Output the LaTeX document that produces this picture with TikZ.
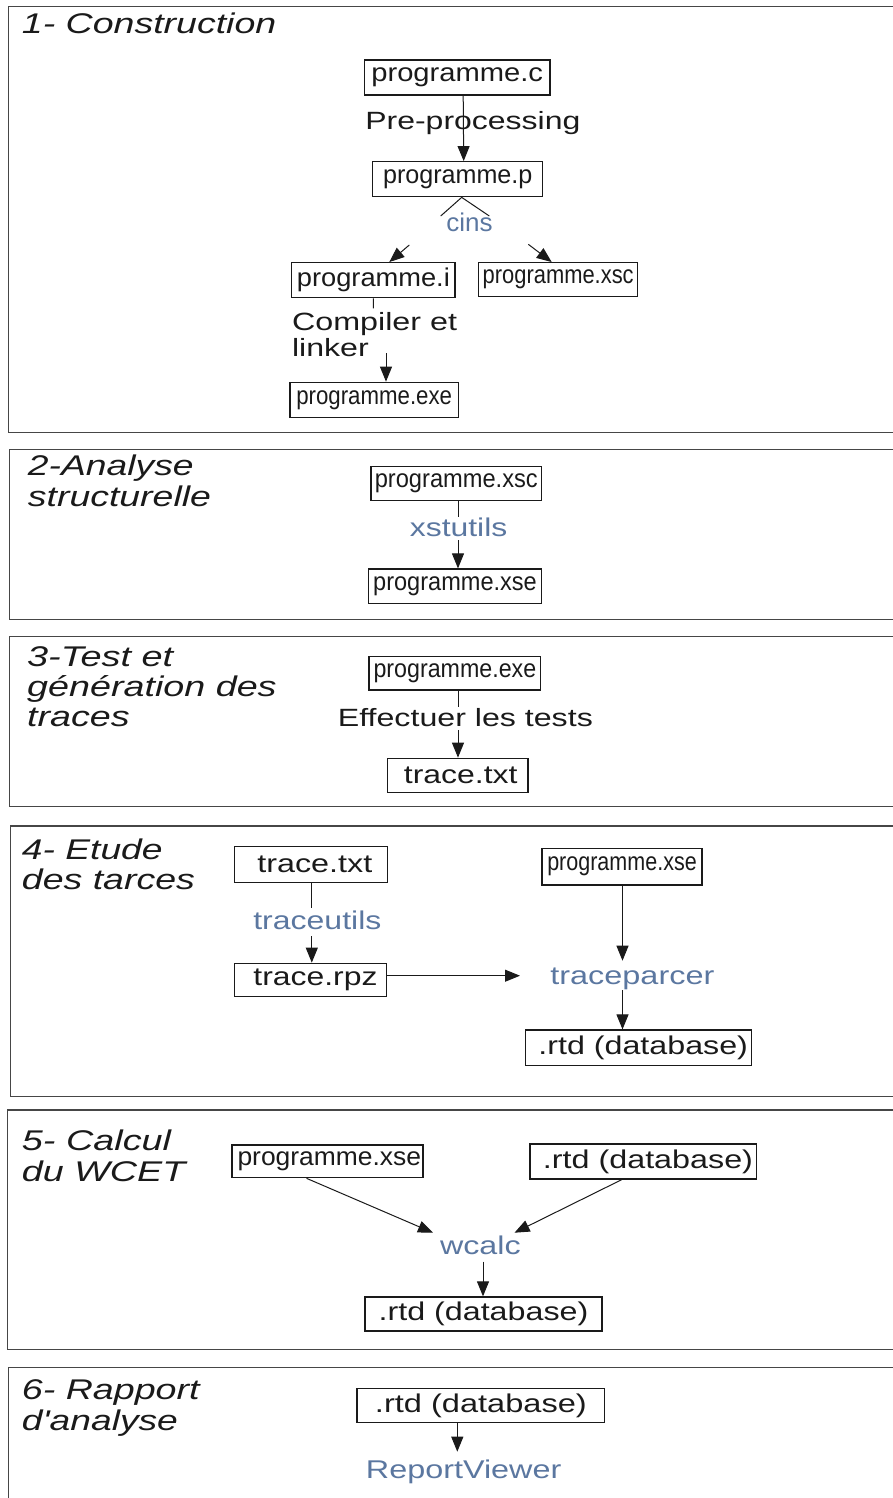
\documentclass[tikz,border=0pt]{standalone}
\usepackage{graphicx}
\usepackage{fontspec}
\setmainfont{Liberation Sans}
\usetikzlibrary{arrows.meta}

% one drawing unit = 0.2mm; \fw sets a text to a given width, keeping its height
\newlength\pxu
\setlength\pxu{0.2mm}
\newcommand\fw[2]{\resizebox{#1\pxu}{\height}{#2}}

\definecolor{ink}{RGB}{26,26,26}
\definecolor{toolblue}{RGB}{91,119,160}
\definecolor{framec}{RGB}{70,70,70}

\begin{document}
\begin{tikzpicture}[
  x=0.2mm, y=-0.2mm,
  frame/.style={draw=framec, line width=0.3mm},
  box/.style={draw=ink, line width=0.26mm, inner sep=0, text=ink,
              font=\fontsize{14.6pt}{17pt}\selectfont},
  wh/.style 2 args={minimum width=#1*0.2mm, minimum height=#2*0.2mm},
  title/.style={inner sep=0, anchor=base west, text=ink,
                font=\fontsize{16.2pt}{19pt}\selectfont\itshape},
  note/.style={inner sep=0, anchor=base west, text=ink,
               font=\fontsize{14.2pt}{17pt}\selectfont},
  toollabel/.style={inner sep=0, anchor=base west, text=toolblue,
                    font=\fontsize{14.6pt}{17pt}\selectfont},
  link/.style={draw=ink, line width=0.2mm},
  arr/.style={link, -{Triangle[length=3mm,width=2.4mm]}},
]
\useasboundingbox (0,0) rectangle (893,1498);
\clip (0,0) rectangle (893,1498);

% ---------- section frames (open to the right) ----------
\draw[frame] (900,6.7)    -- (8.5,6.7)    -- (8.5,432.3)   -- (900,432.3);
\draw[frame] (900,449.3)  -- (9.6,449.3)  -- (9.6,619.3)   -- (900,619.3);
\draw[frame] (900,636.7)  -- (9.6,636.7)  -- (9.6,806.7)   -- (900,806.7);
\draw[frame] (900,826)    -- (10.3,826)   -- (10.3,1096.7) -- (900,1096.7);
\draw[frame] (900,1110)   -- (7.4,1110)   -- (7.4,1349.3)  -- (900,1349.3);
\draw[frame] (900,1367.5) -- (8.5,1367.5) -- (8.5,1510);

% ---------- section titles ----------
\node[title] (t1)  at (21.6,33)    {\fw{254.4}{1- Construction}};
\node[title] (t2a) at (27.6,475)   {\fw{165.7}{2-Analyse}};
\node[title] (t2b) at (27.6,506.7) {\fw{183}{structurelle}};
\node[title] (t3a) at (26.8,666)   {\fw{146}{3-Test et}};
\node[title] (t3b) at (26.8,696.7) {\fw{249.5}{génération des}};
\node[title] (t3c) at (26.8,726.7) {\fw{102.6}{traces}};
\node[title] (t4a) at (21.6,859.3) {\fw{140.7}{4- Etude}};
\node[title] (t4b) at (21.6,889.3) {\fw{173}{des tarces}};
\node[title] (t5a) at (21.6,1150)  {\fw{149.2}{5- Calcul}};
\node[title] (t5b) at (21.6,1181)  {\fw{163.4}{du WCET}};
\node[title] (t6a) at (21.6,1399)  {\fw{177.7}{6- Rapport}};
\node[title] (t6b) at (21.6,1430)  {\fw{156}{d\textquotesingle analyse}};

% ---------- 1- Construction ----------
\node[box, wh={185.7}{35}] (pc)    at (457.2,77.5)  {\fw{171.7}{programme.c}};
\node[box, wh={170}{35}]   (pp)    at (457.7,179.2) {\fw{149.3}{programme.p}};
\node[box, wh={163.3}{35}] (pi)    at (373.4,280.2) {\fw{153}{programme.i}};
\node[box, wh={159}{34}]   (pxsc1) at (558.2,279.7) {\fw{151}{programme.xsc}};
\node[box, wh={168.3}{35}] (pexe1) at (374.2,399.8) {\fw{155.7}{programme.exe}};

\node[note] (prep) at (365,129.3) {\fw{215}{Pre-processing}};
\node[toollabel] (cins) at (446,231.7) {\fw{46.3}{cins}};
\node[note] (cl1) at (291.7,330) {\fw{165}{Compiler et}};
\node[note] (cl2) at (291.7,356) {\fw{76.7}{linker}};

\draw[arr] ([xshift=1.2mm]pc.south) -- ([xshift=1.2mm]pp.north);
\coordinate (cl) at (440.7,216);
\coordinate (cr) at (489.3,216);
\draw[link] (cl) -- ([xshift=0.8mm]pp.south) -- (cr);
\coordinate (al) at (409.3,245);
\coordinate (ar) at (528.3,244.3);
\draw[arr] (al) -- ([xshift=3.18mm]pi.north);
\draw[arr] (ar) -- ([xshift=-1.3mm]pxsc1.north);
\coordinate (cc) at (373.3,308.3);
\draw[link] (pi.south) -- (cc);
\coordinate (ce) at (386,353.3);
\draw[arr] (ce) -- (ce |- pexe1.north);

% ---------- 2-Analyse structurelle ----------
\node[box, wh={170.5}{34}]   (pxsc2) at (456.3,483.7) {\fw{163}{programme.xsc}};
\node[box, wh={173}{34.3}]   (pxse2) at (455,586.2)   {\fw{163.6}{programme.xse}};
\node[toollabel] (xst) at (409.5,536) {\fw{97.5}{xstutils}};
\coordinate (x1) at (458,517);
\coordinate (x2) at (458,540);
\draw[link] (x1 |- pxsc2.south) -- (x1);
\draw[arr] (x2) -- (x2 |- pxse2.north);

% ---------- 3-Test et génération des traces ----------
\node[box, wh={171.7}{33.3}] (pexe3) at (454.9,673.4) {\fw{162.7}{programme.exe}};
\node[box, wh={140.7}{34}]   (tt3)   at (457.7,775.3) {\hspace*{6\pxu}\fw{113.6}{trace.txt}};
\node[note] (eff) at (337.5,726) {\fw{255}{Effectuer les tests}};
\coordinate (e1) at (458,706.7);
\coordinate (e2) at (458,730);
\draw[link] (e1 |- pexe3.south) -- (e1);
\draw[arr] (e2) -- (e2 |- tt3.north);

% ---------- 4- Etude des traces ----------
\node[box, wh={152.9}{36}]   (tt4)   at (311,864.7)   {\hspace*{7.6\pxu}\fw{115}{trace.txt}};
\node[box, wh={151.8}{33.4}] (rpz)   at (310.5,980)   {\hspace*{10\pxu}\fw{124}{trace.rpz}};
\node[box, wh={160}{36.7}]   (pxse4) at (622,866.7)   {\fw{149.5}{programme.xse}};
\node[box, wh={226}{35.3}]   (rtd4)  at (638.7,1047.7){\hspace*{9\pxu}\fw{209.6}{.rtd (database)}};
\node[toollabel] (tu) at (253,929.3) {\fw{128}{traceutils}};
\node[toollabel] (tp) at (550,984.3) {\fw{164}{traceparcer}};
\coordinate (u1) at (311.8,908.3);
\coordinate (u2) at (311.8,936);
\draw[link] (u1 |- tt4.south) -- (u1);
\draw[arr] (u2) -- (u2 |- rpz.north);
\coordinate (r1) at (520,975.7);
\draw[arr] (rpz.east |- r1) -- (r1);
\coordinate (p1) at (622.5,960.7);
\coordinate (p2) at (622.5,990);
\draw[arr] (p1 |- pxse4.south) -- (p1);
\draw[arr] (p2) -- (p2 |- rtd4.north);

% ---------- 5- Calcul du WCET ----------
\node[box, wh={191}{32.7}]   (pxse5) at (327.5,1161.3) {\hspace*{3.6\pxu}\fw{183.5}{programme.xse}};
\node[box, wh={226.8}{35}]   (rtd5)  at (643.4,1161.5) {\hspace*{9.2\pxu}\fw{210}{.rtd (database)}};
\node[box, wh={237}{34}]     (rtd6)  at (483.5,1314)   {\fw{209.8}{.rtd (database)}};
\node[toollabel] (wc) at (439.7,1254.3) {\fw{80.7}{wcalc}};
\coordinate (w1) at (433,1232.7);
\coordinate (w2) at (514.5,1232.7);
\draw[arr] ([xshift=-4.2mm]pxse5.south) -- (w1);
\draw[arr] ([xshift=-4.34mm]rtd5.south) -- (w2);
\coordinate (w3) at (483,1261.7);
\draw[arr] (w3) -- (w3 |- rtd6.north);

% ---------- 6- Rapport d'analyse ----------
\node[box, wh={247.8}{34.4}] (rtd7) at (480.9,1405.5) {\fw{211.8}{.rtd (database)}};
\node[toollabel] (rv) at (365.6,1478.3) {\fw{195.4}{ReportViewer}};
\coordinate (v1) at (457.3,1451.7);
\draw[arr] (v1 |- rtd7.south) -- (v1);

\end{tikzpicture}
\end{document}
